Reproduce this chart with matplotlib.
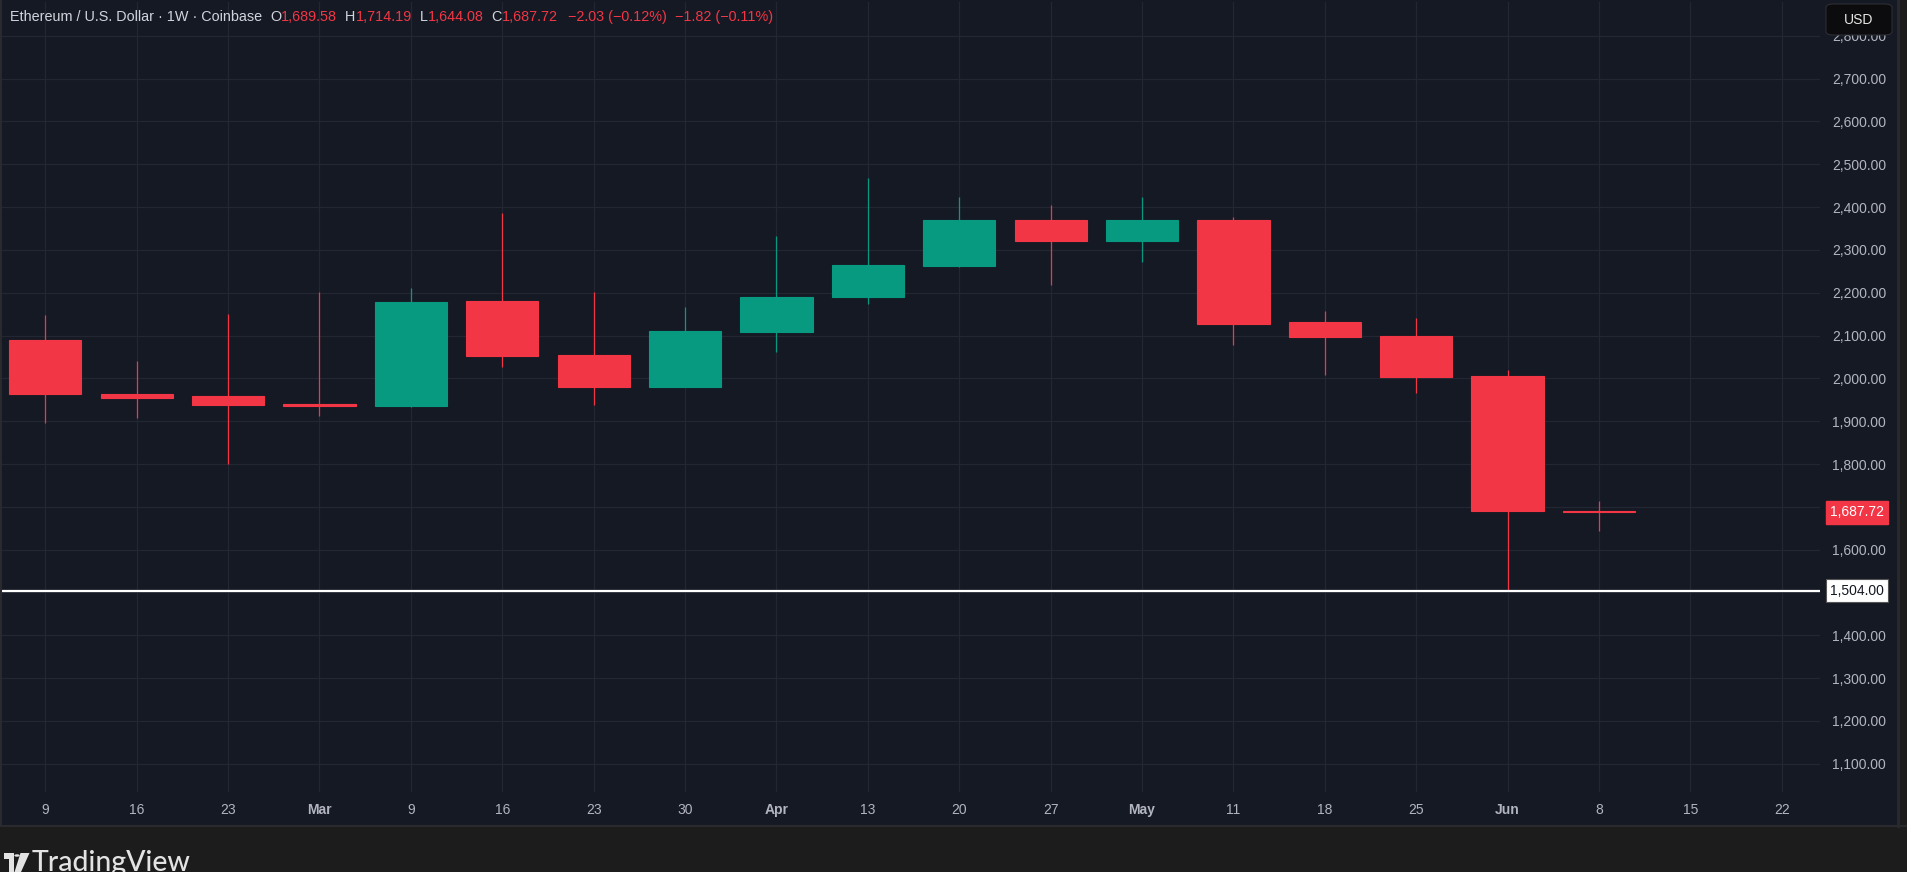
import matplotlib
matplotlib.use("Agg")
import matplotlib.pyplot as plt
from matplotlib.patches import FancyBboxPatch, Rectangle, Polygon, Circle
from matplotlib.transforms import blended_transform_factory

plt.rcParams['font.family'] = ['Liberation Sans', 'DejaVu Sans']

# ---------------- data ----------------
week_labels = ['9', '16', '23', 'Mar', '9', '16', '23', '30', 'Apr', '13',
               '20', '27', 'May', '11', '18', '25', 'Jun', '8', '15', '22']
month_labels = {'Mar', 'Apr', 'May', 'Jun'}
opens  = [2089, 1964, 1958, 1941, 1936, 2180, 2054, 1981, 2109, 2190,
          2263, 2371, 2321, 2371, 2131, 2099, 2005, 1689.58]
highs  = [2148, 2040, 2150, 2201, 2211, 2386, 2201, 2167, 2332, 2467,
          2424, 2405, 2424, 2377, 2157, 2140, 2019, 1714.19]
lows   = [1896, 1907, 1801, 1912, 1932, 2027, 1938, 1979, 2062, 2174,
          2259, 2218, 2271, 2079, 2008, 1966, 1504, 1644.08]
closes = [1964, 1955, 1938, 1936, 2179, 2052, 1980, 2110, 2191, 2265,
          2371, 2321, 2371, 2128, 2096, 2003, 1689.75, 1687.72]
price_ticks = list(range(1100, 2801, 100))
support_level = 1504.00
last_close = 1687.72
header_title = "Ethereum / U.S. Dollar · 1W · Coinbase"
ohlc_names = ['O', 'H', 'L', 'C']
ohlc_vals = ['1,689.58', '1,714.19', '1,644.08', '1,687.72']
change_texts = ['−2.03 (−0.12%)', '−1.82 (−0.11%)']

# ---------------- styles ----------------
W, H = 1907, 872
BG = '#151924'
OUTER = '#1c1c1c'
GRID = '#232733'
RED = '#F23645'
GREEN = '#089981'
TXT = '#B2B5BE'

fig = plt.figure(figsize=(W / 100, H / 100), dpi=100, facecolor=OUTER)

def fx(x):
    return x / W

def fy(y):
    return 1 - y / H

# chart panel background (plot + both axes)
fig.patches.append(Rectangle((fx(2), fy(826)), fx(1898) - fx(2), fy(0) - fy(826),
                             transform=fig.transFigure, facecolor=BG,
                             edgecolor='none', zorder=-5))

ax = fig.add_axes([fx(2), fy(792), fx(1820) - fx(2), fy(2) - fy(792)])
ax.set_facecolor(BG)
for s in ax.spines.values():
    s.set_visible(False)

n = len(opens)
xs = list(range(n))
body_w = 0.79
for i in xs:
    o, h, l, c = opens[i], highs[i], lows[i], closes[i]
    col = GREEN if c >= o else RED
    ax.vlines(i, l, h, color=col, linewidth=0.9, zorder=3)
    ax.bar(i, abs(c - o), bottom=min(o, c), width=body_w, color=col,
           edgecolor=col, linewidth=0.8, zorder=4)

ax.set_xlim(-0.473, 19.418)
ax.set_ylim(1034, 2879)

ax.set_xticks(range(len(week_labels)))
ax.set_xticklabels(week_labels)
for lab in ax.get_xticklabels():
    lab.set_fontweight('bold' if lab.get_text() in month_labels else 'normal')
ax.set_yticks(price_ticks)
ax.set_yticklabels([f"{v:,.2f}" for v in price_ticks])
ax.yaxis.tick_right()
ax.tick_params(axis='both', length=0, labelsize=10, colors=TXT)
ax.tick_params(axis='x', pad=8)
ax.tick_params(axis='y', pad=8.5)
ax.grid(True, color=GRID, linewidth=0.9)
ax.set_axisbelow(True)

# support line
ax.axhline(support_level, color='white', linewidth=1.6, zorder=5)

# price labels on right axis
bt = blended_transform_factory(ax.transAxes, ax.transData)
xlab = 1 + 37 / (1820 - 2)
ax.text(xlab, last_close, f"{last_close:,.2f}", transform=bt, ha='center',
        va='center', fontsize=10, color='white', clip_on=False, zorder=10,
        bbox=dict(boxstyle='square,pad=0.32', facecolor=RED, edgecolor=RED))
ax.text(xlab, support_level, f"{support_level:,.2f}", transform=bt, ha='center',
        va='center', fontsize=10, color='#131722', clip_on=False, zorder=10,
        bbox=dict(boxstyle='square,pad=0.32', facecolor='white', edgecolor='#555555',
                  linewidth=0.8))

# panel borders
fig.add_artist(plt.Line2D([fx(1898), fx(1898)], [fy(0), fy(826)], color='#2a2a2e',
                          linewidth=2, transform=fig.transFigure))
fig.add_artist(plt.Line2D([fx(1), fx(1)], [fy(0), fy(826)], color='#2a2a2e',
                          linewidth=1.5, transform=fig.transFigure))
fig.add_artist(plt.Line2D([fx(0), fx(1907)], [fy(826), fy(826)], color='#2a2a2e',
                          linewidth=1.5, transform=fig.transFigure))

# USD button
usd = FancyBboxPatch((fx(1826), fy(35)), fx(1892) - fx(1826), fy(4) - fy(35),
                     boxstyle='round,pad=0,rounding_size=0.004',
                     transform=fig.transFigure, facecolor='#0c0c0e',
                     edgecolor='#2e2e33', linewidth=0.8, zorder=20)
fig.patches.append(usd)
fig.text(fx(1859), fy(19.5), 'USD', ha='center', va='center', color='#e6e6e6',
         fontsize=10, zorder=21)

# header
fig.canvas.draw()
r = fig.canvas.get_renderer()
x = 10
y = fy(17)
pieces = [(header_title, '#D1D4DC', 8)]
for name, val in zip(ohlc_names, ohlc_vals):
    pieces.append((name, '#D1D4DC', 0))
    pieces.append((val, RED, 8))
pieces[-1] = (pieces[-1][0], RED, 10)
pieces.append((change_texts[0], RED, 8))
pieces.append((change_texts[1], RED, 0))
for txt, col, gap in pieces:
    t = fig.text(fx(x), y, txt, color=col, fontsize=10.4, ha='left', va='center')
    bb = t.get_window_extent(renderer=r)
    x += bb.width + gap

# TradingView logo
logo_col = '#e3e3e3'
fig.patches.append(Polygon([(fx(4), fy(853)), (fx(13.5), fy(853)), (fx(13.5), fy(872)),
                            (fx(9), fy(872)), (fx(9), fy(858.5)), (fx(4), fy(858.5))],
                           closed=True, transform=fig.transFigure, facecolor=logo_col,
                           edgecolor='none'))
fig.patches.append(Circle((fx(17), fy(855.5)), 2.7 / W, transform=fig.transFigure,
                          facecolor=logo_col, edgecolor='none'))
fig.patches.append(Polygon([(fx(20.5), fy(853)), (fx(29.5), fy(853)), (fx(21), fy(872)),
                            (fx(14.5), fy(872))], closed=True, transform=fig.transFigure,
                           facecolor=logo_col, edgecolor='none'))
fig.text(fx(32), fy(870.5), 'TradingView', color=logo_col, fontsize=20.5,
         ha='left', va='baseline', family=['Lato', 'DejaVu Sans'], fontweight='medium')

fig.savefig('out.png', dpi=100, facecolor=OUTER)
